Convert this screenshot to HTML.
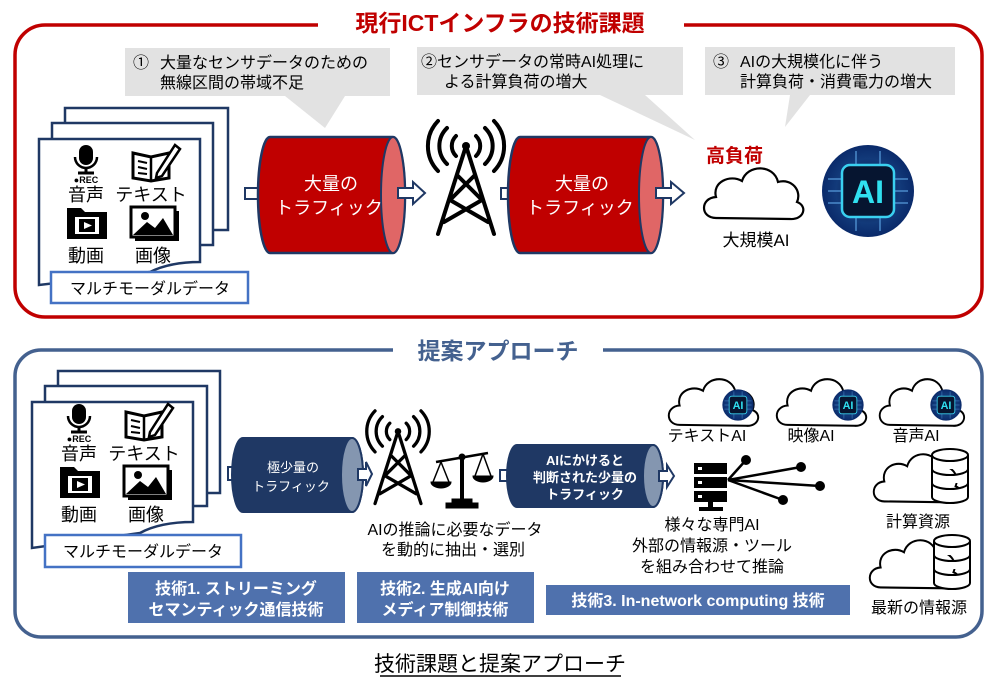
<!DOCTYPE html>
<html><head><meta charset="utf-8"><style>
html,body{margin:0;padding:0;background:#fff;width:1000px;height:684px;overflow:hidden}
svg text{font-family:"Liberation Sans","Noto Sans CJK JP",sans-serif}
</style></head><body>
<svg width="1000" height="684" viewBox="0 0 1000 684" xmlns="http://www.w3.org/2000/svg">
<defs>
<path id="cloud" d="M14,52 C-2,52 -2,32 14,31 C10,16 28,8 40,15 C45,-2 72,-2 76,16 C90,12 100,25 95,36 C106,40 102,54 88,53 Z" fill="#fff" stroke="#000" stroke-width="2.2"/>
<radialGradient id="aig" cx="50%" cy="50%" r="50%"><stop offset="0" stop-color="#0a1a40"/><stop offset="0.7" stop-color="#123a7a"/><stop offset="1" stop-color="#0a2a6a"/></radialGradient>
<g id="chip">
<circle cx="0" cy="0" r="46" fill="url(#aig)"/>
<g stroke="#5aa0e0" stroke-width="1.5" opacity="0.8"><line x1="-40" y1="-12" x2="-26" y2="-12"/><line x1="-40" y1="0" x2="-26" y2="0"/><line x1="-40" y1="12" x2="-26" y2="12"/><line x1="26" y1="-12" x2="40" y2="-12"/><line x1="26" y1="0" x2="40" y2="0"/><line x1="26" y1="12" x2="40" y2="12"/><line x1="-12" y1="-40" x2="-12" y2="-26"/><line x1="12" y1="-40" x2="12" y2="-26"/><line x1="-12" y1="26" x2="-12" y2="40"/><line x1="12" y1="26" x2="12" y2="40"/></g>
<rect x="-26" y="-26" width="52" height="52" rx="8" fill="#061530" stroke="#3ad0f0" stroke-width="2.5"/>
<text x="0" y="12" font-size="32" font-weight="bold" fill="#30e0f0" text-anchor="middle">AI</text>
</g>
<g id="tower" fill="none" stroke="#000" stroke-width="4" stroke-linecap="round">
<path d="M0,-30 L-28,58 M0,-30 L28,58 M-8,0 L16,24 M8,0 L-16,24 M-16,24 L22,46 M16,24 L-22,46"/>
<circle cx="0" cy="-30" r="4" fill="#000" stroke="none"/>
<path d="M-10,-40 A14,14 0 0 0 -10,-20 M10,-40 A14,14 0 0 1 10,-20 M-19,-48 A25,25 0 0 0 -19,-12 M19,-48 A25,25 0 0 1 19,-12 M-28,-55 A36,36 0 0 0 -28,-5 M28,-55 A36,36 0 0 1 28,-5"/>
</g>
<g id="icons">
<rect x="-8" y="0" width="14" height="20" rx="7" fill="#000"/>
<path d="M-12,12 A11,11 0 0 0 10,12" fill="none" stroke="#000" stroke-width="2.5"/>
<line x1="-1" y1="23" x2="-1" y2="28" stroke="#000" stroke-width="3"/>
<line x1="-9" y1="28" x2="7" y2="28" stroke="#000" stroke-width="3"/>
<text x="-1" y="38" font-size="9" font-weight="bold" text-anchor="middle">●REC</text>
<text x="-1" y="56" font-size="18" text-anchor="middle">音声</text>
<path d="M46,8 L64,12 L82,8 L82,33 L64,36 L46,33 Z" fill="#fff" stroke="#000" stroke-width="3"/>
<line x1="64" y1="12" x2="64" y2="36" stroke="#000" stroke-width="2.5"/>
<line x1="51" y1="16" x2="60" y2="18" stroke="#000" stroke-width="2"/><line x1="51" y1="22" x2="60" y2="24" stroke="#000" stroke-width="2"/><line x1="51" y1="28" x2="60" y2="29" stroke="#000" stroke-width="2"/>
<path d="M70,28 L88,0 L93,4 L75,31 L69,33 Z" fill="#fff" stroke="#000" stroke-width="2.5"/>
<text x="64" y="56" font-size="18" text-anchor="middle">テキスト</text>
<path d="M-20,63 L-6,63 L-2,67 L20,67 L20,94 L-20,94 Z" fill="#000"/>
<rect x="-12" y="72" width="24" height="17" fill="#fff"/><rect x="-8" y="74" width="16" height="13" fill="#000"/><path d="M-3,77 L5,80.5 L-3,84 Z" fill="#fff"/>
<text x="-1" y="117" font-size="18" text-anchor="middle">動画</text>
<rect x="48" y="66" width="44" height="30" fill="#000"/>
<rect x="44" y="62" width="44" height="30" fill="#fff" stroke="#000" stroke-width="3"/>
<circle cx="58" cy="71" r="4" fill="#000"/><path d="M46,90 L60,77 L68,83 L76,73 L86,90 Z" fill="#000"/>
<text x="66" y="117" font-size="18" text-anchor="middle">画像</text>
</g>
<path id="db" d="M0,6 A18,6 0 0 1 36,6 L36,48 A18,6 0 0 1 0,48 Z M0,6 A18,6 0 0 0 36,6 M0,20 A18,6 0 0 0 36,20 M0,34 A18,6 0 0 0 36,34" fill="#fff" stroke="#000" stroke-width="2"/>
</defs>

<rect x="15" y="25" width="967" height="292" rx="30" fill="none" stroke="#c00000" stroke-width="3.5"/>
<rect x="318" y="8" width="366" height="30" fill="#fff"/>
<text x="500" y="31" font-size="23" font-weight="bold" fill="#c00000" text-anchor="middle">現行ICTインフラの技術課題</text>

<path d="M125,48 L390,48 L390,96 L345,96 L325,128 L285,96 L125,96 Z" fill="#e2e2e2"/>
<text x="133" y="68" font-size="16">①</text>
<text x="160" y="68" font-size="16">大量なセンサデータのための</text>
<text x="160" y="88" font-size="16">無線区間の帯域不足</text>
<path d="M417,47 L683,47 L683,95 L645,95 L695,140 L600,95 L417,95 Z" fill="#e2e2e2"/>
<text x="421" y="67" font-size="16">②センサデータの常時AI処理に</text>
<text x="444" y="87" font-size="16">よる計算負荷の増大</text>
<path d="M705,47 L955,47 L955,95 L810,95 L785,127 L790,95 L705,95 Z" fill="#e2e2e2"/>
<text x="713" y="67" font-size="16">③</text>
<text x="740" y="67" font-size="16">AIの大規模化に伴う</text>
<text x="740" y="87" font-size="16">計算負荷・消費電力の増大</text>

<rect x="65" y="108" width="163" height="122" fill="#fff" stroke="#1f3864" stroke-width="2.5"/>
<rect x="52" y="123" width="161" height="122" fill="#fff" stroke="#1f3864" stroke-width="2.5"/>
<path d="M39,139 L200,139 L200,262 Q170,262 150,272 L39,285 Z" fill="#fff" stroke="#1f3864" stroke-width="2.5"/>
<g transform="translate(87,145)"><use href="#icons"/></g>
<rect x="51" y="272" width="197" height="31" fill="#fff" stroke="#4472c4" stroke-width="2.5"/>
<text x="150" y="294" font-size="16" text-anchor="middle">マルチモーダルデータ</text>

<rect x="245" y="188" width="14" height="11" fill="#fff" stroke="#1f3864" stroke-width="2"/>
<path d="M270,137 L393,137 A12,58 0 0 1 393,253 L270,253 A12,58 0 0 1 270,137 Z" fill="#c00000" stroke="#1f3864" stroke-width="2.5"/>
<ellipse cx="393" cy="195" rx="12" ry="58" fill="#e06666" stroke="#1f3864" stroke-width="2"/>
<path d="M398,188 L413,188 L413,182 L425,193 L413,204 L413,198 L398,198 Z" fill="#fff" stroke="#1f3864" stroke-width="2"/>
<text x="331" y="190" font-size="18" fill="#fff" text-anchor="middle">大量の</text>
<text x="329" y="214" font-size="18" fill="#fff" text-anchor="middle">トラフィック</text>

<g transform="translate(466,176)"><use href="#tower"/></g>

<rect x="501" y="188" width="14" height="11" fill="#fff" stroke="#1f3864" stroke-width="2"/>
<path d="M520,137 L651,137 A12,58 0 0 1 651,253 L520,253 A12,58 0 0 1 520,137 Z" fill="#c00000" stroke="#1f3864" stroke-width="2.5"/>
<ellipse cx="651" cy="195" rx="12" ry="58" fill="#e06666" stroke="#1f3864" stroke-width="2"/>
<path d="M656,188 L671,188 L671,182 L684,193 L671,204 L671,198 L656,198 Z" fill="#fff" stroke="#1f3864" stroke-width="2"/>
<text x="582" y="190" font-size="18" fill="#fff" text-anchor="middle">大量の</text>
<text x="580" y="214" font-size="18" fill="#fff" text-anchor="middle">トラフィック</text>

<text x="706" y="162" font-size="19" font-weight="bold" fill="#c00000">高負荷</text>
<g transform="translate(702,166)"><use href="#cloud"/></g>
<text x="756" y="246" font-size="17" text-anchor="middle">大規模AI</text>
<g transform="translate(868,191)"><use href="#chip"/></g>

<rect x="15" y="350" width="967" height="287" rx="26" fill="none" stroke="#44618f" stroke-width="3.5"/>
<rect x="393" y="335" width="210" height="30" fill="#fff"/>
<text x="498" y="359" font-size="23" font-weight="bold" fill="#44618f" text-anchor="middle">提案アプローチ</text>

<rect x="58" y="371" width="162" height="122" fill="#fff" stroke="#1f3864" stroke-width="2.5"/>
<rect x="45" y="386" width="162" height="120" fill="#fff" stroke="#1f3864" stroke-width="2.5"/>
<path d="M32,402 L193,402 L193,522 Q160,522 140,533 L32,548 Z" fill="#fff" stroke="#1f3864" stroke-width="2.5"/>
<g transform="translate(80,404)"><use href="#icons"/></g>
<rect x="45" y="535" width="196" height="32" fill="#fff" stroke="#4472c4" stroke-width="2.5"/>
<text x="143" y="557" font-size="16" text-anchor="middle">マルチモーダルデータ</text>

<rect x="228" y="467" width="8" height="13" fill="#fff" stroke="#1f3864" stroke-width="2"/>
<path d="M243,438 L352,438 A11,37 0 0 1 352,512 L243,512 A11,37 0 0 1 243,438 Z" fill="#1f3864" stroke="#1f3864" stroke-width="2"/>
<ellipse cx="352" cy="475" rx="11" ry="37" fill="#8496b0" stroke="#1f3864" stroke-width="2"/>
<path d="M358,469 L366,469 L366,462 L372,474 L366,486 L366,480 L358,480 Z" fill="#fff" stroke="#1f3864" stroke-width="2"/>
<text x="293" y="472" font-size="13" fill="#fff" text-anchor="middle">極少量の</text>
<text x="291" y="491" font-size="13" fill="#fff" text-anchor="middle">トラフィック</text>

<g transform="translate(398,456) scale(0.82)"><use href="#tower"/></g>
<g stroke="#000" fill="#000">
<line x1="436" y1="462" x2="488" y2="453" stroke-width="2.5"/>
<line x1="462" y1="458" x2="462" y2="500" stroke-width="4"/>
<rect x="452" y="499" width="20" height="5"/><rect x="446" y="503" width="32" height="5"/>
<circle cx="462" cy="457" r="3"/>
<path d="M441,462 L433,482 M441,462 L449,482 M483,454 L475,476 M483,454 L491,476" stroke-width="1.5" fill="none"/>
<path d="M431,482 L451,482 A10,6 0 0 1 431,482 Z"/>
<path d="M473,476 L493,476 A10,6 0 0 1 473,476 Z"/>
</g>
<text x="455" y="535" font-size="16" text-anchor="middle">AIの推論に必要なデータ</text>
<text x="453" y="555" font-size="16" text-anchor="middle">を動的に抽出・選別</text>

<rect x="500" y="470" width="9" height="11" fill="#fff" stroke="#1f3864" stroke-width="2"/>
<path d="M517,445 L653,445 A10,31 0 0 1 653,507 L517,507 A10,31 0 0 1 517,445 Z" fill="#1f3864" stroke="#1f3864" stroke-width="2"/>
<ellipse cx="653" cy="476" rx="10" ry="31" fill="#8496b0" stroke="#1f3864" stroke-width="2"/>
<path d="M659,471 L667,471 L667,465 L674,476 L667,487 L667,481 L659,481 Z" fill="#fff" stroke="#1f3864" stroke-width="2"/>
<text x="585" y="465" font-size="13" font-weight="bold" fill="#fff" text-anchor="middle">AIにかけると</text>
<text x="585" y="482" font-size="13" font-weight="bold" fill="#fff" text-anchor="middle">判断された少量の</text>
<text x="585" y="499" font-size="13" font-weight="bold" fill="#fff" text-anchor="middle">トラフィック</text>

<g fill="#000">
<rect x="694" y="463" width="33" height="11"/><rect x="694" y="477" width="33" height="11"/><rect x="694" y="491" width="33" height="11"/>
<rect x="708" y="502" width="5" height="6"/><rect x="699" y="507" width="24" height="4"/>
</g>
<g fill="#fff"><rect x="698" y="467" width="4" height="3"/><rect x="698" y="481" width="4" height="3"/><rect x="698" y="495" width="4" height="3"/></g>
<g stroke="#000" stroke-width="2.5"><line x1="728" y1="480" x2="746" y2="460"/><line x1="728" y1="480" x2="801" y2="467"/><line x1="728" y1="480" x2="820" y2="486"/><line x1="728" y1="480" x2="783" y2="500"/></g>
<g fill="#000"><circle cx="746" cy="460" r="5"/><circle cx="801" cy="467" r="5"/><circle cx="820" cy="486" r="5"/><circle cx="783" cy="500" r="5"/></g>
<text x="712" y="530" font-size="16" text-anchor="middle">様々な専門AI</text>
<text x="712" y="551" font-size="16" text-anchor="middle">外部の情報源・ツール</text>
<text x="712" y="572" font-size="16" text-anchor="middle">を組み合わせて推論</text>

<g transform="translate(667,377) scale(0.9,0.92)"><use href="#cloud"/></g>
<g transform="translate(738,405) scale(0.34)"><use href="#chip"/></g>
<text x="707" y="441" font-size="16" text-anchor="middle">テキストAI</text>
<g transform="translate(775,377) scale(0.9,0.92)"><use href="#cloud"/></g>
<g transform="translate(848,405) scale(0.34)"><use href="#chip"/></g>
<text x="811" y="441" font-size="16" text-anchor="middle">映像AI</text>
<g transform="translate(878,377) scale(0.85,0.92)"><use href="#cloud"/></g>
<g transform="translate(946,405) scale(0.34)"><use href="#chip"/></g>
<text x="916" y="441" font-size="16" text-anchor="middle">音声AI</text>

<g transform="translate(872,452) scale(0.88,0.95)"><use href="#cloud"/></g>
<g transform="translate(932,449)"><use href="#db"/></g>
<text x="918" y="527" font-size="16" text-anchor="middle">計算資源</text>
<g transform="translate(868,538) scale(0.9,0.95)"><use href="#cloud"/></g>
<g transform="translate(934,535)"><use href="#db"/></g>
<text x="919" y="613" font-size="16" text-anchor="middle">最新の情報源</text>

<rect x="128" y="572" width="217" height="51" fill="#4f71ad"/>
<text x="236" y="594" font-size="16" font-weight="bold" fill="#fff" text-anchor="middle">技術1. ストリーミング</text>
<text x="236" y="615" font-size="16" font-weight="bold" fill="#fff" text-anchor="middle">セマンティック通信技術</text>
<rect x="357" y="572" width="177" height="51" fill="#4f71ad"/>
<text x="445" y="594" font-size="16" font-weight="bold" fill="#fff" text-anchor="middle">技術2. 生成AI向け</text>
<text x="445" y="615" font-size="16" font-weight="bold" fill="#fff" text-anchor="middle">メディア制御技術</text>
<rect x="546" y="585" width="304" height="30" fill="#4f71ad"/>
<text x="698" y="606" font-size="16" font-weight="bold" fill="#fff" text-anchor="middle">技術3. In-network computing  技術</text>

<text x="500" y="671" font-size="21" text-anchor="middle">技術課題と提案アプローチ</text>
<line x1="380" y1="676" x2="621" y2="676" stroke="#000" stroke-width="1.5"/>
</svg>
</body></html>
